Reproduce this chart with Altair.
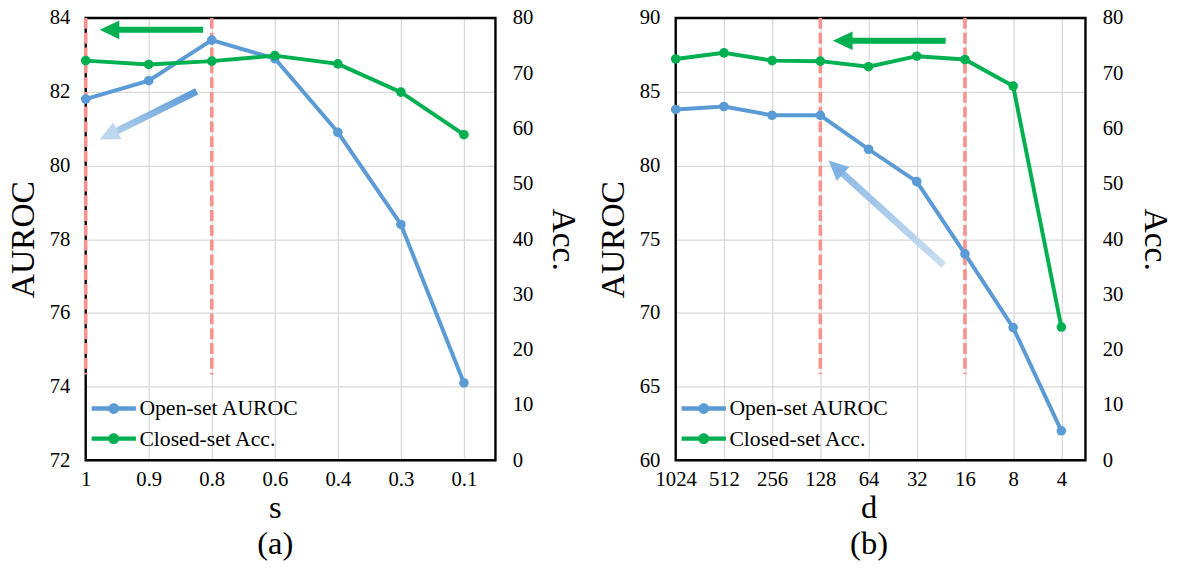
import json

import altair as alt
import pandas as pd

FONT = "'Times New Roman', 'Liberation Serif', serif"
BLUE = "#5B9BD5"
GREEN = "#00B050"
RED = "#F9918C"
GRID = "#D9D9D9"

SERIES = ["Open-set AUROC", "Closed-set Acc."]

# (a) scaling factor s
s_labels = ["1", "0.9", "0.8", "0.6", "0.4", "0.3", "0.1"]
s_auroc = [81.8, 82.3, 83.4, 82.9, 80.9, 78.4, 74.1]
s_acc = [72.3, 71.6, 72.2, 73.2, 71.7, 66.6, 58.9]
s_marked = [0, 2]

# (b) embedding dimension d
d_labels = ["1024", "512", "256", "128", "64", "32", "16", "8", "4"]
d_auroc = [83.8, 84.0, 83.4, 83.4, 81.1, 78.9, 74.0, 69.0, 62.0]
d_acc = [72.6, 73.7, 72.3, 72.2, 71.2, 73.1, 72.5, 67.7, 24.1]
d_marked = [3, 6]

acc_ticks = list(range(0, 81, 10))

# arrow annotations: (tail x, tail y, head x, head y, head angle) in category / AUROC units
s_arrows = {
    "green": (1.863, 83.68, 0.377, 83.68, 180),
    "blue": (1.761, 82.01, 0.361, 80.82, 153.6),
}
d_arrows = {
    "green": (5.60, 88.46, 3.464, 88.46, 180),
    "blue": (5.56, 73.23, 3.321, 79.88, 222.3),
}

HEAD = "M1,0L-1,-0.95L-1,0.95Z"
LEGEND_SYMBOL = ("M-2,-0.2H2V0.2H-2Z"
                 "M0.49,0A0.49,0.49,0,1,1,-0.49,0A0.49,0.49,0,1,1,0.49,0Z")


def panel(labels, auroc, acc, lo, hi, step, marked, mark_low, arrows,
          blue_grad, title, width, acc_title_x):
    n = len(labels)
    xmax = n - 0.5
    xs = list(range(n))
    px = width / xmax
    xscale = alt.Scale(domain=[0, xmax], nice=False, zero=False)
    yscale = alt.Scale(domain=[lo, hi], nice=False, zero=False)
    accscale = alt.Scale(domain=[0, 80], nice=False, zero=False)
    fill_scale = alt.Scale(domain=SERIES, range=[BLUE, GREEN])
    legend = alt.Legend(
        title=None, orient="none", legendX=17, legendY=385,
        symbolType=LEGEND_SYMBOL, symbolSize=506, symbolStrokeWidth=0,
        symbolOpacity=1, labelFont=FONT, labelFontSize=22, labelColor="black",
        labelOffset=14.5, labelLimit=400, rowPadding=7.5, padding=0,
    )

    xaxis = alt.Axis(
        values=xs, labelExpr=f"{json.dumps(labels)}[datum.value]",
        grid=True, gridColor=GRID, gridWidth=1.3, domain=False, ticks=False,
        labelFont=FONT, labelFontSize=21, labelColor="black", labelPadding=9,
        labelFlush=False, labelOverlap=False,
        title=title, titleFont=FONT, titleFontSize=33, titleFontWeight="normal",
        titleColor="black", titleLineHeight=37, titleBaseline="alphabetic",
        titleX=(n - 1) / 2 * px, titleY=58,
    )
    yaxis = alt.Axis(
        values=list(range(lo, hi + 1, step)), grid=True, gridColor=GRID,
        gridWidth=1.3, domain=False, ticks=False, orient="left",
        labelFont=FONT, labelFontSize=21, labelColor="black", labelPadding=16,
        title="AUROC", titleFont=FONT, titleFontSize=34,
        titleFontWeight="normal", titleColor="black",
        titleBaseline="alphabetic", titleX=-53, titleY=224.5,
    )
    accaxis = alt.Axis(
        values=acc_ticks, grid=False, domain=False, ticks=False, orient="right",
        labelFont=FONT, labelFontSize=21, labelColor="black", labelPadding=17,
        title="Acc.", titleFont=FONT, titleFontSize=34,
        titleFontWeight="normal", titleColor="black", titleAngle=90,
        titleBaseline="alphabetic", titleX=acc_title_x, titleY=224.5,
    )

    def xenc(field):
        return alt.X(f"{field}:Q", scale=xscale, axis=xaxis)

    def yenc(field):
        return alt.Y(f"{field}:Q", scale=yscale, axis=yaxis)

    def accenc(field):
        return alt.Y(f"{field}:Q", scale=accscale, axis=accaxis)

    main = pd.DataFrame({"i": xs, "auroc": auroc, "acc": acc,
                         "s1": SERIES[0], "s2": SERIES[1]})

    frame = alt.Chart(pd.DataFrame({"x": [0], "x2": [xmax], "y": [lo], "y2": [hi]})).mark_rect(
        fill="white", fillOpacity=0, stroke="black", strokeWidth=2.4
    ).encode(x=xenc("x"), x2="x2:Q", y=yenc("y"), y2="y2:Q")

    markers = alt.Chart(pd.DataFrame({"x": marked, "y": hi, "y2": mark_low})).mark_rule(
        color=RED, strokeWidth=3.6, strokeDash=[11, 4]
    ).encode(x=xenc("x"), y=yenc("y"), y2="y2:Q")

    layers = [frame, markers]
    for name, (tx, ty, hx, hy, ang) in arrows.items():
        seg = pd.DataFrame({"x": [tx, hx], "y": [ty, hy], "o": [0, 1]})
        head = pd.DataFrame({"x": [hx], "y": [hy]})
        if name == "green":
            shaft = alt.Chart(seg).mark_line(color=GREEN, strokeWidth=6, strokeCap="butt")
            head_color = GREEN
        else:
            stops, coords, head_color = blue_grad
            shaft = alt.Chart(seg).mark_line(
                stroke=alt.LinearGradient(
                    gradient="linear",
                    stops=[alt.GradientStop(color=c, offset=o) for o, c in stops],
                    **coords),
                strokeWidth=7, strokeCap="butt")
        layers.append(shaft.encode(x=xenc("x"), y=yenc("y"), order="o:Q"))
        layers.append(alt.Chart(head).mark_point(
            shape=HEAD, size=400, angle=ang, filled=True, fill=head_color,
            opacity=1, strokeWidth=0
        ).encode(x=xenc("x"), y=yenc("y")))

    blue_line = alt.Chart(main).mark_line(color=BLUE, strokeWidth=4).encode(
        x=xenc("i"), y=yenc("auroc"))
    blue_pts = alt.Chart(main).mark_point(
        filled=True, size=95, opacity=1, strokeWidth=0, shape="circle"
    ).encode(x=xenc("i"), y=yenc("auroc"),
             fill=alt.Fill("s1:N", scale=fill_scale, legend=legend))
    layers += [blue_line, blue_pts]

    left = alt.layer(*layers)
    right = alt.layer(
        alt.Chart(main).mark_line(color=GREEN, strokeWidth=4).encode(
            x=xenc("i"), y=accenc("acc")),
        alt.Chart(main).mark_point(
            filled=True, size=95, opacity=1, strokeWidth=0, shape="circle"
        ).encode(x=xenc("i"), y=accenc("acc"),
                 fill=alt.Fill("s2:N", scale=fill_scale, legend=legend)),
    )
    return alt.layer(left, right).resolve_scale(y="independent").properties(
        width=width, height=449)


grad_a = ([(0, "#5B9BD5"), (1, "#B3D1EE")], dict(x1=1, y1=0, x2=0, y2=1), "#BDD7EE")
grad_b = ([(0, "#C9DEF2"), (1, "#8DBAE5")], dict(x1=1, y1=1, x2=0, y2=0), "#7FB1E2")

pa = panel(s_labels, s_auroc, s_acc, 72, 84, 2, s_marked, 74.33, s_arrows,
           grad_a, ["s", "(a)"], 416, 58)
pb = panel(d_labels, d_auroc, d_acc, 60, 90, 5, d_marked, 65.84, d_arrows,
           grad_b, ["d", "(b)"], 416, 60)

chart = alt.hconcat(pa, pb, spacing=16).resolve_scale(
    fill="independent"
).resolve_legend(fill="independent").properties(
    padding={"left": 6, "top": 2, "right": 10, "bottom": 0},
    background="white",
).configure_view(stroke="transparent")

chart.save("out.html", embed_options={"renderer": "svg", "actions": False})
